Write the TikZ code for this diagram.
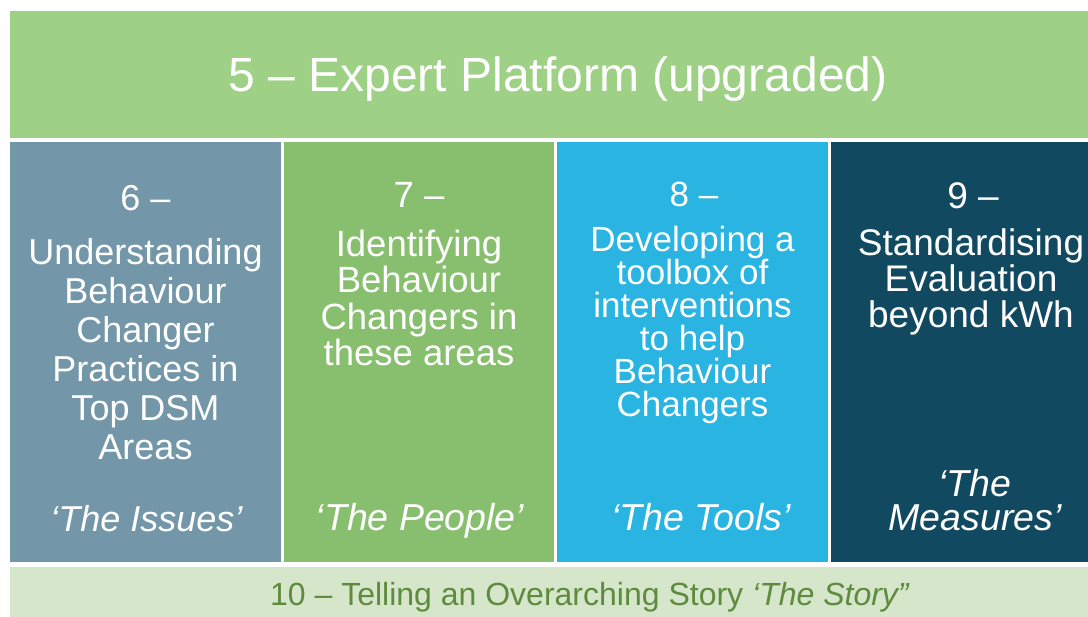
\documentclass[tikz,border=0pt]{standalone}
\usepackage{fontspec}
\setmainfont{Liberation Sans}
\definecolor{banner}{RGB}{158,208,134}
\definecolor{colA}{RGB}{115,151,168}
\definecolor{colB}{RGB}{136,191,111}
\definecolor{colC}{RGB}{41,180,226}
\definecolor{colD}{RGB}{17,74,96}
\definecolor{barbg}{RGB}{213,230,203}
\definecolor{bartxt}{RGB}{94,139,61}
\begin{document}
\begin{tikzpicture}[x=1pt,y=-1pt,
  wtext/.style={text=white,align=center,inner sep=0pt},
]
\useasboundingbox (0,0) rectangle (1088,617);
\fill[white] (0,0) rectangle (1088,617);
% banner
\path[fill=banner] (10,11) rectangle (1088,138);
\node[wtext,font=\fontsize{48}{52}\selectfont] (title) at (558,79) {5 -- Expert Platform (upgraded)};
% columns
\path[fill=colA] (10,142) rectangle (281,562);
\path[fill=colB] (284,142) rectangle (554,562);
\path[fill=colC] (557,142) rectangle (828,562);
\path[fill=colD] (831,142) rectangle (1088,562);
% column 1
\node[wtext,font=\fontsize{36}{39}\selectfont] (n6) at (145.5,198) {6 --};
\node[wtext,font=\fontsize{36}{39}\selectfont] (t6) at (145.5,349) {Understanding\\Behaviour\\Changer\\Practices in\\Top DSM\\Areas};
\node[wtext,font=\fontsize{36}{39}\selectfont\itshape] (q6) at (146.5,519) {‘The Issues’};
% column 2
\node[wtext,font=\fontsize{36.5}{36.5}\selectfont] (n7) at (419,195) {7 --};
\node[wtext,font=\fontsize{36.5}{36.5}\selectfont] (t7) at (419,298) {Identifying\\Behaviour\\Changers in\\these areas};
\node[wtext,font=\fontsize{37.5}{38}\selectfont\itshape] (q7) at (420,521) {‘The People’};
% column 3
\node[wtext,font=\fontsize{35}{33}\selectfont] (n8) at (694,194) {8 --};
\node[wtext,font=\fontsize{35}{33}\selectfont] (t8) at (692.5,325) {Developing a\\toolbox of\\interventions\\to help\\Behaviour\\Changers};
\node[wtext,font=\fontsize{37.5}{38}\selectfont\itshape] (q8) at (701,517) {‘The Tools’};
% column 4
\node[wtext,font=\fontsize{37}{36}\selectfont] (n9) at (973,196) {9 --};
\node[wtext,font=\fontsize{37}{36}\selectfont] (t9) at (971,282) {Standardising\\Evaluation\\beyond kWh};
\node[wtext,font=\fontsize{37.5}{34.5}\selectfont\itshape] (q9) at (975,500) {‘The\\Measures’};
% bottom bar
\path[fill=barbg] (10,567) rectangle (1088,617);
\node[text=bartxt,inner sep=0pt,font=\fontsize{32}{34}\selectfont] (story) at (590,597) {10 -- Telling an Overarching Story \textit{‘The Story”}};
\end{tikzpicture}
\end{document}
